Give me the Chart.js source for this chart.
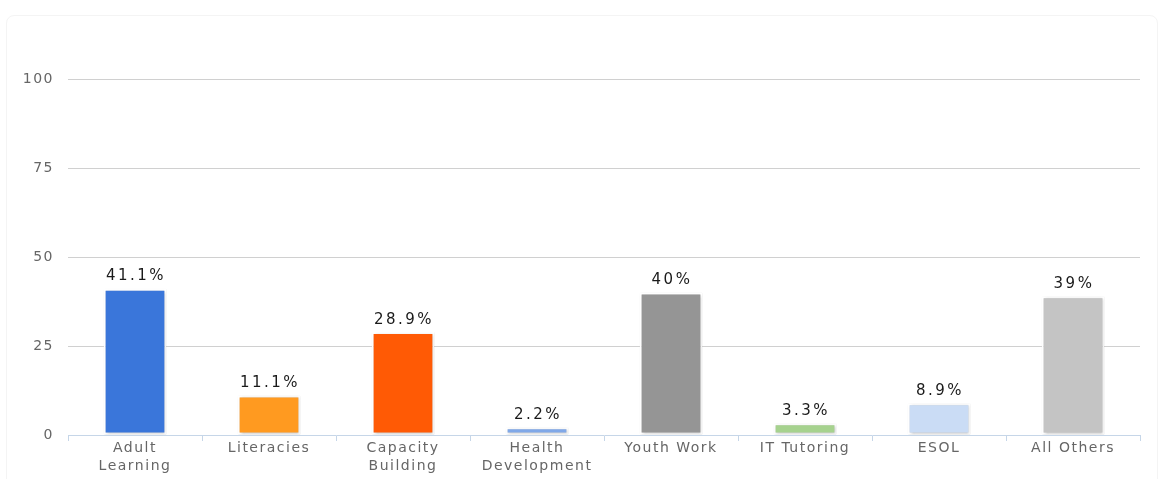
<!DOCTYPE html>
<html>
<head>
<meta charset="utf-8">
<script src="https://cdn.jsdelivr.net/npm/chart.js@4"></script>
<style>
  html, body { margin: 0; padding: 0; background: #fff; }
  #wrap { position: relative; width: 1168px; height: 479px; }
  #card { position: absolute; left: 6px; top: 15px; width: 1150px; height: 470px;
          border: 1px solid #f4f4f4; border-radius: 8px; }
  #chart { position: absolute; left: 0; top: 0; }
</style>
</head>
<body>
<div id="wrap">
  <div id="card"></div>
  <canvas id="chart" width="1168" height="479"></canvas>
</div>
<script>
const $ = (q) => document.querySelector(q);

// data
const categories = [
  ["Adult", "Learning"],
  "Literacies",
  ["Capacity", "Building"],
  ["Health", "Development"],
  "Youth Work",
  "IT Tutoring",
  "ESOL",
  "All Others"
];
const values = [41.1, 11.1, 28.9, 2.2, 40, 3.3, 8.9, 39];
const valueLabels = ["41.1%", "11.1%", "28.9%", "2.2%", "40%", "3.3%", "8.9%", "39%"];
const barColors = ["#3a76da", "#ff9a20", "#ff5a05", "#80a8e8", "#959595", "#a6d28e", "#cadcf5", "#c4c4c4"];
const yTicks = [0, 25, 50, 75, 100];

// the original text is drawn wide, so spread the letters a bit
const wideText = {
  id: "wideText",
  beforeDraw(chart) { chart.ctx.letterSpacing = "1.5px"; }
};

// soft shadow under the bars
const barShadow = {
  id: "barShadow",
  beforeDatasetDraw(chart) {
    const ctx = chart.ctx;
    ctx.save();
    ctx.shadowColor = "rgba(0,0,0,0.22)";
    ctx.shadowBlur = 3;
    ctx.shadowOffsetX = 1;
    ctx.shadowOffsetY = 1;
  },
  afterDatasetDraw(chart) {
    chart.ctx.restore();
  }
};

// value labels above the bars
const barLabels = {
  id: "barLabels",
  afterDatasetsDraw(chart) {
    const ctx = chart.ctx;
    const meta = chart.getDatasetMeta(0);
    ctx.save();
    ctx.font = "15px 'DejaVu Sans'";
    ctx.letterSpacing = "2.5px";
    ctx.fillStyle = "#1a1a1a";
    ctx.textAlign = "center";
    ctx.textBaseline = "bottom";
    meta.data.forEach((bar, i) => {
      ctx.fillText(valueLabels[i], bar.x + 1, bar.y - 5);
    });
    ctx.restore();
  }
};

new Chart($("#chart"), {
  type: "bar",
  data: {
    labels: categories,
    datasets: [{
      data: values,
      backgroundColor: barColors,
      borderColor: "#ffffff",
      borderWidth: 2,
      borderSkipped: false,
      categoryPercentage: 0.9,
      barPercentage: 0.52
    }]
  },
  options: {
    responsive: false,
    animation: false,
    layout: { padding: { left: 18, right: 28, top: 79, bottom: 5 } },
    plugins: { legend: { display: false }, tooltip: { enabled: false } },
    scales: {
      x: {
        grid: { drawOnChartArea: false, drawTicks: true, tickLength: 6, color: "#c6d6e8", offset: true },
        border: { color: "#c6d6e8", width: 1 },
        ticks: { color: "#666", font: { family: "'DejaVu Sans'", size: 14, lineHeight: 1.25 }, padding: -1, maxRotation: 0 }
      },
      y: {
        min: 0,
        max: 100,
        afterBuildTicks: (s) => { s.ticks = yTicks.map(v => ({ value: v })); },
        afterFit: (s) => { s.width = 50; },
        grid: { color: (c) => c.tick && c.tick.value === 0 ? "rgba(0,0,0,0)" : "#d0d0d0", drawTicks: false },
        border: { display: false },
        ticks: { color: "#666", font: { family: "'DejaVu Sans'", size: 14 }, padding: 14 }
      }
    }
  },
  plugins: [wideText, barShadow, barLabels]
});
</script>
</body>
</html>
